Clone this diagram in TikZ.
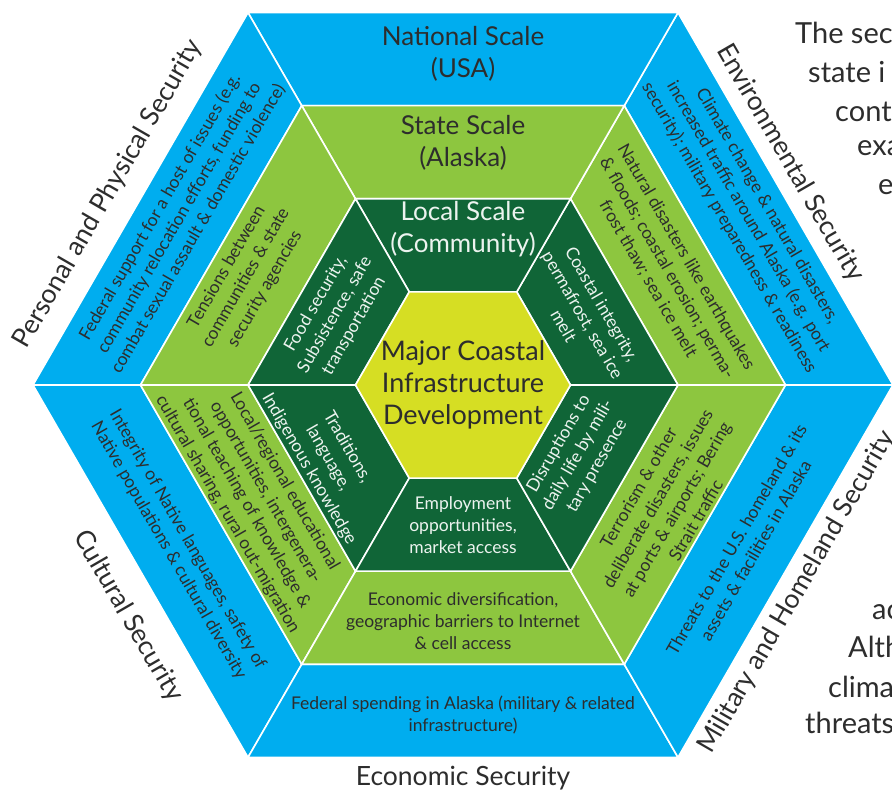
\documentclass[tikz,border=0pt]{standalone}
\usepackage{fontspec}
\setmainfont{Lato}
\usepackage{tikz}
\usetikzlibrary{positioning}
\definecolor{hexblue}{RGB}{0, 173, 239}
\definecolor{hexlime}{RGB}{141, 198, 63}
\definecolor{hexdark}{RGB}{16, 101, 55}
\definecolor{hexcore}{RGB}{214, 222, 35}
\definecolor{inkgray}{RGB}{45, 45, 45}

\tikzset{
    seg/.style={draw=white, line width=1.6pt, line join=miter},
    blurb/.style={align=center, text=inkgray, inner sep=0pt, font=\fontsize{17.5}{22}\selectfont},
    blurbw/.style={blurb, text=white!92!hexdark},
    scalelab/.style={align=center, text=inkgray, inner sep=0pt, font=\fontsize{26}{32}\selectfont},
    seclab/.style={text=inkgray, inner sep=0pt, font=\fontsize{26.5}{30}\selectfont},
    pagetext/.style={anchor=west, text=inkgray, inner sep=0pt, font=\fontsize{29}{38}\selectfont},
}

\begin{document}
\begin{tikzpicture}[x=1pt, y=1pt]
    \useasboundingbox (-463,-406) rectangle (429,385);

    % --- Rings of the hexagon ---
    \foreach \ri/\ro/\col in {322.5/430/hexblue, 215/322.5/hexlime, 107.5/215/hexdark}{
        \foreach \a in {0,60,...,300}{
            \filldraw[seg, fill=\col] (\a:\ri) -- (\a:\ro) -- (\a+60:\ro) -- (\a+60:\ri) -- cycle;
        }
    }
    \filldraw[seg, fill=hexcore] (0:107.5) -- (60:107.5) -- (120:107.5) -- (180:107.5) -- (240:107.5) -- (300:107.5) -- cycle;

    % --- Core ---
    \node[scalelab, font=\fontsize{27}{32}\selectfont] (core) at (0,0) {Major Coastal\\Infrastructure\\Development};

    % --- Outer ring (national) ---
    \node[scalelab] (ntop) at (0,331) {National Scale\\(USA)};
    \node[blurb, rotate=60] (nul) at (-284,167) {Federal support for a host of issues (e.g.\\community relocation efforts, funding to\\combat sexual assault \& domestic violence)};
    \node[blurb, rotate=-60] (nur) at (285,168) {Climate change \& natural disasters,\\increased traffic around Alaska (e.g. port\\security); military preparedness \& readiness};
    \node[blurb, rotate=-60] (nll) at (-285,-160) {Integrity of Native languages, safety of\\Native populations \& cultural diversity};
    \node[blurb] (nbot) at (0,-330) {Federal spending in Alaska (military \& related\\infrastructure)};
    \node[blurb, rotate=60] (nlr) at (283,-160) {Threats to the U.S. homeland \& its\\assets \& facilities in Alaska};

    % --- Middle ring (state) ---
    \node[scalelab] (stop) at (0,242) {State Scale\\(Alaska)};
    \node[blurb, rotate=60] (sul) at (-217,107) {Tensions between\\communities \& state\\security agencies};
    \node[blurb, rotate=-60] (sur) at (204,117) {Natural disasters like earthquakes\\\& floods; coastal erosion; perma-\\frost thaw; sea ice melt};
    \node[blurb, rotate=-60] (sll) at (-207,-113) {Local/regional educational\\opportunities, intergenera-\\tional teaching of knowledge \&\\cultural sharing, rural out-migration};
    \node[blurb] (sbot) at (0,-236) {Economic diversification,\\geographic barriers to Internet\\\& cell access};
    \node[blurb, rotate=60] (slr) at (204,-119) {Terrorism \& other\\deliberate disasters, issues\\at ports \& airports; Bering\\Strait traffic};

    % --- Inner ring (community) ---
    \node[scalelab, text=white!92!hexdark] (ltop) at (0,156) {Local Scale\\(Community)};
    \node[blurbw, rotate=60] (lul) at (-128,70) {Food security,\\Subsistence, safe\\transportation};
    \node[blurbw, rotate=-60] (lur) at (120,70) {Coastal integrity,\\permafrost, sea ice\\melt};
    \node[blurbw, rotate=-60] (lll) at (-135,-73) {Traditions,\\language,\\Indigenous knowledge};
    \node[blurbw] (lbot) at (0,-140) {Employment\\opportunities,\\market access};
    \node[blurbw, rotate=60] (llr) at (115,-70) {Disruptions to\\daily life by mili-\\tary presence};

    % --- Security labels round the outside ---
    \node[seclab, rotate=60] (pers) at (-355,191) {Personal and Physical Security};
    \node[seclab, rotate=-60] (envi) at (327,222) {Environmental Security};
    \node[seclab, rotate=60] (mili) at (334,-207) {Military and Homeland Security};
    \node[seclab, rotate=-60] (cult) at (-335,-231) {Cultural Security};
    \node[seclab] (econ) at (0,-393) {Economic Security};

    % --- Running text of the page (cut at the edge) ---
    \node[pagetext] (pt1) at (332,352) {The sec};
    \node[pagetext] (pt2) at (345,313) {state i};
    \node[pagetext] (pt3) at (372,273) {cont};
    \node[pagetext] (pt4) at (394,237) {exa};
    \node[pagetext] (pt5) at (415,198) {e};
    \node[pagetext] (pb1) at (409,-227) {ac};
    \node[pagetext] (pb2) at (385,-262) {Alth};
    \node[pagetext] (pb3) at (365,-302) {clima};
    \node[pagetext] (pb4) at (342,-338) {threats};
\end{tikzpicture}
\end{document}
